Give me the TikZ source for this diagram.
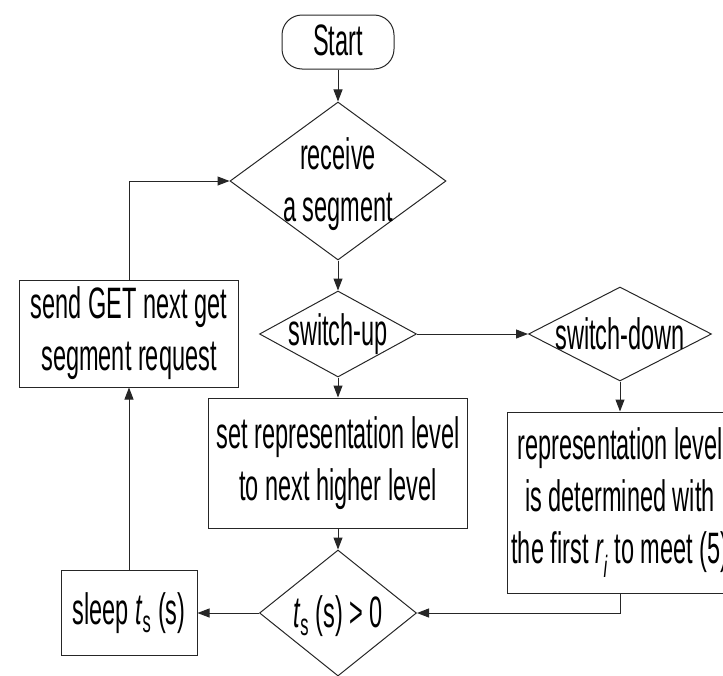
\documentclass[tikz,border=0pt]{standalone}
\usepackage{fontspec}
\setmainfont{Liberation Sans}[FakeStretch=0.535]
\usetikzlibrary{shapes.geometric, arrows.meta}
\tikzstyle{chart} = [x = 1pt, y = -1pt, font=\fontsize{44}{52}\selectfont]
\tikzstyle{flowLine} = [draw=black!85, line width=1pt]
\tikzstyle{flowArrow} = [flowLine, -{Triangle[length=12pt, width=9pt]}]
\tikzstyle{startStyle} = [flowLine, rounded corners=20pt, minimum width=112pt, minimum height=54pt, inner sep=0pt]
\tikzstyle{boxStyle} = [flowLine, align=center, inner sep=0pt]
\tikzstyle{decisionStyle} = [diamond, flowLine, inner sep=0pt]
\tikzstyle{decisionText} = [align=center, inner sep=0pt]
\newcommand{\sleepTime}{\textit{t}\textsubscript{s}}
\newcommand{\decision}[6]{\node [decisionStyle, minimum width=#4pt, minimum height=#5pt, label={[decisionText, yshift=#6pt]center:{#2}}] (#1) at (#3) {};}

\begin{document}
\begin{tikzpicture}[chart]
      \path [use as bounding box, clip] (0,0) rectangle (723,675);

      \node [startStyle] (start) at (338,42) {\raisebox{3pt}{Start}};
      \decision{receive}{receive\\a segment}{338,181}{216}{158}{-3}
      \decision{switchUp}{switch-up}{338,334}{157}{86}{0}
      \decision{switchDown}{switch-down}{620,334}{183}{94}{0}
      \decision{sleepCheck}{\sleepTime\ (s) > 0}{338,613}{157}{126}{-3}

      \node [boxStyle, minimum width=259pt, minimum height=130pt] (higherLevel) at (338,463) {set representation level\\to next higher level};
      \node [boxStyle, minimum width=226pt, minimum height=181pt] (firstLevel) at (620,502.5) {representation level\\is determined with\\the first \textit{r}\textsubscript{\textit{i}} to meet (5)};
      \node [boxStyle, minimum width=136pt, minimum height=85pt] (sleep) at (129,613) {sleep \sleepTime\ (s)};
      \node [boxStyle, minimum width=219pt, minimum height=107pt] (sendGet) at (129,333.5) {send GET next get\\segment request};

      \draw [flowArrow] (start) -- (receive);
      \draw [flowArrow] (receive) -- (switchUp);
      \draw [flowArrow] (switchUp) -- (switchDown);
      \draw [flowArrow] (switchUp) -- (higherLevel);
      \draw [flowArrow] (switchDown) -- (firstLevel);
      \draw [flowArrow] (higherLevel) -- (sleepCheck);
      \draw [flowArrow] (firstLevel.south) |- (sleepCheck.east);
      \draw [flowArrow] (sleepCheck) -- (sleep);
      \draw [flowArrow] (sleep) -- (sendGet);
      \draw [flowArrow] (sendGet.north) |- (receive.west);
    \end{tikzpicture}
\end{document}
